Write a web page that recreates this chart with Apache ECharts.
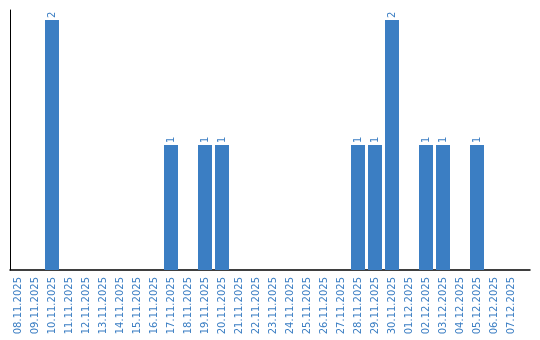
<!DOCTYPE html>
<html><head><meta charset="utf-8">
<script src="https://cdn.jsdelivr.net/npm/echarts@6/dist/echarts.min.js"></script>
<style>html,body{margin:0;padding:0;background:#fff}#c{width:540px;height:340px}</style>
</head><body><div id="c"></div>
<script>
const categories = ["08.11.2025","09.11.2025","10.11.2025","11.11.2025","12.11.2025","13.11.2025","14.11.2025","15.11.2025","16.11.2025","17.11.2025","18.11.2025","19.11.2025","20.11.2025","21.11.2025","22.11.2025","23.11.2025","24.11.2025","25.11.2025","26.11.2025","27.11.2025","28.11.2025","29.11.2025","30.11.2025","01.12.2025","02.12.2025","03.12.2025","04.12.2025","05.12.2025","06.12.2025","07.12.2025"];
const values = [0,0,2,0,0,0,0,0,0,1,0,1,1,0,0,0,0,0,0,0,1,1,2,0,1,1,0,1,0,0];
const blue = '#3b7ec3';
const chart = echarts.init(document.getElementById('c'), null, {renderer:'canvas'});
chart.setOption({
  animation:false,
  grid:[
    {left:9.5, width:510, top:10, bottom:70, containLabel:false},
    {left:10, right:10, top:10, bottom:70, containLabel:false}
  ],
  xAxis:[
    {type:'category', gridIndex:0, data:categories, boundaryGap:true,
     axisLine:{show:false}, axisTick:{show:false},
     axisLabel:{rotate:90, interval:0, margin:7, color:blue, fontFamily:'DejaVu Sans', fontSize:10}},
    {type:'category', gridIndex:1, data:[''], axisLine:{show:true, lineStyle:{color:'#000', width:1.5}},
     axisTick:{show:false}, axisLabel:{show:false}}
  ],
  yAxis:[
    {type:'value', gridIndex:0, min:0, max:2.08, splitLine:{show:false}, axisLabel:{show:false}, axisTick:{show:false}, axisLine:{show:false}},
    {type:'value', gridIndex:1, min:0, max:1, splitLine:{show:false}, axisLabel:{show:false}, axisTick:{show:false},
     axisLine:{show:true, lineStyle:{color:'#000', width:1}}}
  ],
  series:[{
    type:'bar', xAxisIndex:0, yAxisIndex:0, data:values, barWidth:14,
    itemStyle:{color:blue},
    label:{show:true, position:'top', rotate:90, align:'left', verticalAlign:'middle', distance:2,
      color:blue, fontFamily:'DejaVu Sans', fontSize:10,
      formatter:p=>p.value>0?String(p.value):''}
  }]
});
</script></body></html>
